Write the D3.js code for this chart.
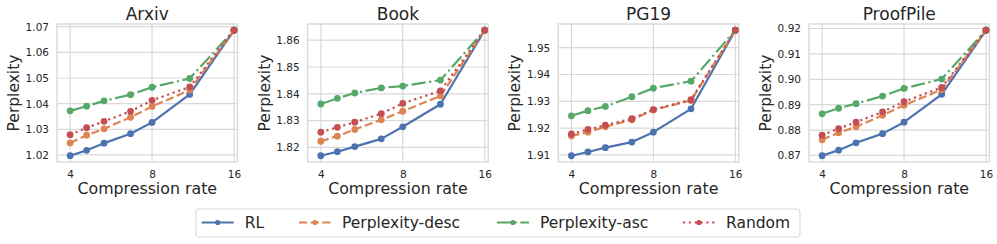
<!DOCTYPE html>
<html>
<head>
<meta charset="utf-8">
<script src="https://cdn.jsdelivr.net/npm/d3@7"></script>
<style>
  html, body { margin: 0; padding: 0; background: #fff; }
  svg { display: block; font-family: "DejaVu Sans", sans-serif; }
</style>
</head>
<body>
<svg id="chart" width="997" height="244"></svg>
<script>
// ---------- data ----------
const datasets = ["Arxiv", "Book", "PG19", "ProofPile"];
const compressionRates = [4, 4.6, 5.33, 6.67, 8, 11, 16];
const xTickValues = [4, 8, 16];
const seriesNames = ["RL", "Perplexity-desc", "Perplexity-asc", "Random"];

const arxivRL     = [1.0197, 1.0218, 1.0246, 1.0283, 1.0327, 1.0436, 1.0686];
const arxivDesc   = [1.0247, 1.0277, 1.0302, 1.0347, 1.0389, 1.0453, 1.0686];
const arxivAsc    = [1.0372, 1.0390, 1.0411, 1.0435, 1.0464, 1.0498, 1.0686];
const arxivRandom = [1.0279, 1.0306, 1.0331, 1.0370, 1.0413, 1.0465, 1.0686];

const bookRL      = [1.8169, 1.8184, 1.8203, 1.8232, 1.8277, 1.8361, 1.8637];
const bookDesc    = [1.8223, 1.8242, 1.8267, 1.8303, 1.8335, 1.8392, 1.8637];
const bookAsc     = [1.8362, 1.8383, 1.8403, 1.8422, 1.8429, 1.8451, 1.8637];
const bookRandom  = [1.8257, 1.8275, 1.8294, 1.8326, 1.8364, 1.8411, 1.8637];

const pg19RL      = [1.9097, 1.9111, 1.9127, 1.9148, 1.9185, 1.9272, 1.9565];
const pg19Desc    = [1.9171, 1.9185, 1.9205, 1.9231, 1.9268, 1.9303, 1.9565];
const pg19Asc     = [1.9246, 1.9265, 1.9281, 1.9317, 1.9349, 1.9375, 1.9565];
const pg19Random  = [1.9178, 1.9195, 1.9211, 1.9235, 1.9269, 1.9306, 1.9565];

const proofRL     = [0.8699, 0.8721, 0.8750, 0.8786, 0.8831, 0.8941, 0.9193];
const proofDesc   = [0.8762, 0.8789, 0.8813, 0.8858, 0.8898, 0.8959, 0.9193];
const proofAsc    = [0.8864, 0.8886, 0.8904, 0.8934, 0.8964, 0.9001, 0.9193];
const proofRandom = [0.8780, 0.8806, 0.8831, 0.8872, 0.8912, 0.8968, 0.9193];

const yTicksArxiv = [1.02, 1.03, 1.04, 1.05, 1.06, 1.07];
const yTicksBook  = [1.82, 1.83, 1.84, 1.85, 1.86];
const yTicksPG19  = [1.91, 1.92, 1.93, 1.94, 1.95];
const yTicksProof = [0.87, 0.88, 0.89, 0.90, 0.91, 0.92];

const panelSeries = [
  [arxivRL, arxivDesc, arxivAsc, arxivRandom],
  [bookRL, bookDesc, bookAsc, bookRandom],
  [pg19RL, pg19Desc, pg19Asc, pg19Random],
  [proofRL, proofDesc, proofAsc, proofRandom]
];
const panelYTicks = [yTicksArxiv, yTicksBook, yTicksPG19, yTicksProof];

// ---------- style ----------
const colors = ["#4c72b0", "#dd8452", "#55a868", "#c44e52"];
const LW = 2.2;
const dashes = ["none", `${3.7*LW},${1.6*LW}`, `${6.4*LW},${1.6*LW},${1*LW},${1.6*LW}`, `${1*LW},${1.65*LW}`];
const gridColor = "#d9d9d9";
const textColor = "#262626";

const svg = d3.select("#chart");
const panelW = 180.5, plotTop = 24, plotBottom = 162;
const lefts = [57, 307.7, 558.3, 809];

datasets.forEach((name, i) => {
  const x0 = lefts[i];
  const g = svg.append("g").attr("transform", `translate(${x0},0)`);
  const x = d3.scaleLog().base(2).domain([3.58, 16.48]).range([0, panelW]);
  const all = panelSeries[i].flat();
  const [mn, mx] = d3.extent(all);
  const pad = (mx - mn) * 0.05;
  const y = d3.scaleLinear().domain([mn - pad, mx + pad]).range([plotBottom, plotTop]);

  // grid
  g.selectAll("line.gx").data(xTickValues).join("line")
    .attr("x1", d => x(d)).attr("x2", d => x(d))
    .attr("y1", plotTop).attr("y2", plotBottom)
    .attr("stroke", gridColor).attr("stroke-width", 1.2);
  g.selectAll("line.gy").data(panelYTicks[i]).join("line")
    .attr("x1", 0).attr("x2", panelW)
    .attr("y1", d => y(d)).attr("y2", d => y(d))
    .attr("stroke", gridColor).attr("stroke-width", 1.2);
  // frame
  g.append("rect").attr("x", 0).attr("y", plotTop).attr("width", panelW).attr("height", plotBottom - plotTop)
    .attr("fill", "none").attr("stroke", gridColor).attr("stroke-width", 1.4);

  // axes (labels only)
  const xAxis = d3.axisBottom(x).tickValues(xTickValues).tickFormat(d3.format("d")).tickSize(0).tickPadding(9);
  const xa = g.append("g").attr("transform", `translate(0,${plotBottom})`).call(xAxis);
  xa.select(".domain").remove();
  xa.selectAll("text").attr("font-size", 10.5).attr("fill", textColor).attr("font-family", "DejaVu Sans");

  const yAxis = d3.axisLeft(y).tickValues(panelYTicks[i]).tickFormat(d3.format(".2f")).tickSize(0).tickPadding(8);
  const ya = g.append("g").call(yAxis);
  ya.select(".domain").remove();
  ya.selectAll("text").attr("font-size", 10.5).attr("fill", textColor).attr("font-family", "DejaVu Sans");

  // series
  panelSeries[i].forEach((vals, s) => {
    const pts = compressionRates.map((c, k) => [c, vals[k]]);
    const line = d3.line().x(d => x(d[0])).y(d => y(d[1]));
    g.append("path").attr("d", line(pts)).attr("fill", "none")
      .attr("stroke", colors[s]).attr("stroke-width", LW)
      .attr("stroke-dasharray", dashes[s]).attr("stroke-linejoin", "round");
    g.selectAll(null).data(pts).join("circle")
      .attr("cx", d => x(d[0])).attr("cy", d => y(d[1])).attr("r", 3.4)
      .attr("fill", colors[s]);
  });

  // title and labels
  g.append("text").attr("x", panelW / 2).attr("y", 20).attr("text-anchor", "middle")
    .attr("font-size", 17).attr("fill", textColor).text(name);
  g.append("text").attr("x", panelW / 2).attr("y", 194).attr("text-anchor", "middle")
    .attr("font-size", 15.8).attr("fill", textColor).text("Compression rate");
  g.append("text").attr("transform", `translate(-38,${(plotTop + plotBottom) / 2}) rotate(-90)`)
    .attr("text-anchor", "middle").attr("font-size", 15.5).attr("fill", textColor).text("Perplexity");
});

// legend
const leg = svg.append("g");
leg.append("rect").attr("x", 196).attr("y", 209).attr("width", 604).attr("height", 28)
  .attr("rx", 3).attr("fill", "#fff").attr("stroke", "#d6d6d6").attr("stroke-width", 1);
const handleX = [201.7, 299, 497, 683];
const legY = 222.5;
seriesNames.forEach((nm, s) => {
  const hx = handleX[s];
  leg.append("line").attr("x1", hx).attr("x2", hx + 32).attr("y1", legY).attr("y2", legY)
    .attr("stroke", colors[s]).attr("stroke-width", LW).attr("stroke-dasharray", dashes[s]);
  leg.append("circle").attr("cx", hx + 16).attr("cy", legY).attr("r", 2.6).attr("fill", colors[s]);
  leg.append("text").attr("x", hx + 43).attr("y", legY).attr("dy", "0.35em")
    .attr("font-size", 15.5).attr("fill", textColor).text(nm);
});
</script>
</body>
</html>
